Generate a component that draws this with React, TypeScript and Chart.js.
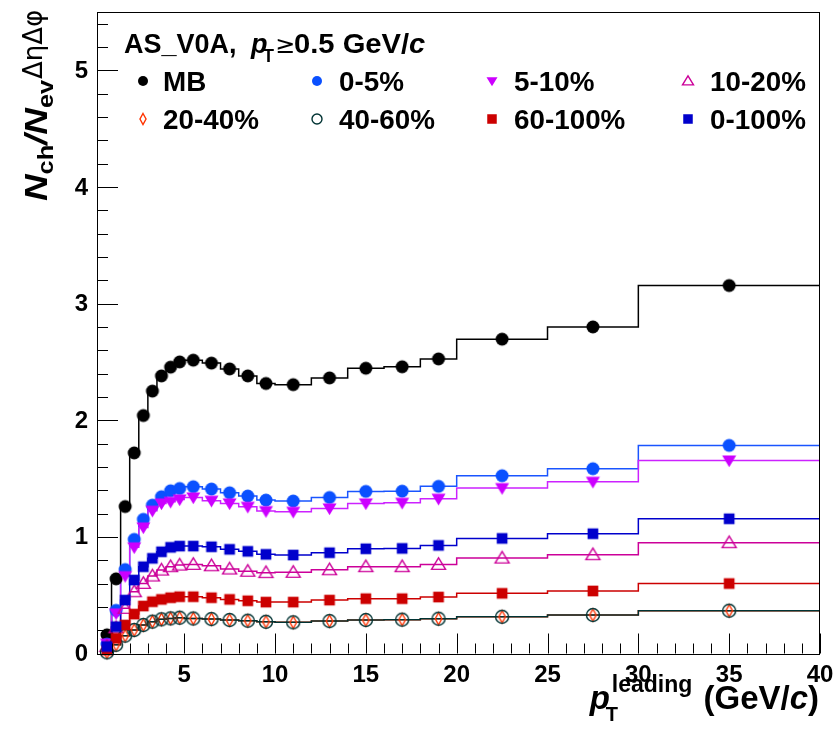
import React, { useEffect, useRef } from 'react';
import { Chart, registerables } from 'chart.js';

Chart.register(...registerables);

// ---------------- data ----------------
const binEdges = [0.5, 1, 1.5, 2, 2.5, 3, 3.5, 4, 4.5, 5, 6, 7, 8, 9, 10, 12, 14, 16, 18, 20, 25, 30, 40];
const binCenters = [0.75, 1.25, 1.75, 2.25, 2.75, 3.25, 3.75, 4.25, 4.75, 5.5, 6.5, 7.5, 8.5, 9.5, 11, 13, 15, 17, 19, 22.5, 27.5, 35];

const valsMB = [0.16, 0.64, 1.26, 1.72, 2.04, 2.25, 2.38, 2.455, 2.5, 2.515, 2.49, 2.44, 2.38, 2.315, 2.305, 2.363, 2.446, 2.458, 2.526, 2.695, 2.8, 3.155];
const vals0to5 = [0.08, 0.37, 0.72, 0.978, 1.15, 1.272, 1.344, 1.395, 1.415, 1.43, 1.41, 1.378, 1.35, 1.315, 1.307, 1.338, 1.39, 1.392, 1.433, 1.524, 1.584, 1.784];
const vals5to10 = [0.085, 0.344, 0.664, 0.91, 1.081, 1.224, 1.287, 1.301, 1.321, 1.338, 1.31, 1.287, 1.258, 1.221, 1.215, 1.244, 1.287, 1.292, 1.327, 1.418, 1.472, 1.655];
const vals10to20 = [0.06, 0.22, 0.387, 0.529, 0.601, 0.664, 0.715, 0.744, 0.758, 0.764, 0.752, 0.724, 0.705, 0.693, 0.696, 0.718, 0.744, 0.744, 0.764, 0.818, 0.847, 0.95];
const vals20to40 = [0.01, 0.075, 0.153, 0.201, 0.244, 0.273, 0.293, 0.301, 0.307, 0.3, 0.295, 0.287, 0.281, 0.272, 0.267, 0.278, 0.287, 0.29, 0.298, 0.315, 0.33, 0.367];
const vals40to60 = [0.01, 0.075, 0.153, 0.201, 0.244, 0.273, 0.293, 0.301, 0.307, 0.3, 0.295, 0.287, 0.281, 0.272, 0.267, 0.278, 0.287, 0.29, 0.298, 0.315, 0.33, 0.367];
const vals60to100 = [0.03, 0.13, 0.244, 0.338, 0.407, 0.444, 0.464, 0.478, 0.487, 0.487, 0.478, 0.464, 0.452, 0.441, 0.441, 0.458, 0.47, 0.47, 0.484, 0.516, 0.536, 0.6];
const vals0to100 = [0.06, 0.23, 0.458, 0.63, 0.744, 0.816, 0.872, 0.91, 0.921, 0.921, 0.915, 0.893, 0.876, 0.85, 0.844, 0.864, 0.898, 0.901, 0.927, 0.987, 1.027, 1.155];

const yTickLabels = ['0', '1', '2', '3', '4', '5'];
const xTickLabels = ['5', '10', '15', '20', '25', '30', '35', '40'];

// ---------------- styles ----------------
type Kind = 'circle' | 'ocircle' | 'square' | 'tridown' | 'otriup' | 'odiamond';
interface Series { label: string; values: number[]; color: string; lineColor: string; kind: Kind; size: number; legendSize: number; }

const series: Series[] = [
  { label: 'MB', values: valsMB, color: '#000000', lineColor: '#000000', kind: 'circle', size: 6.5, legendSize: 5 },
  { label: '0-5%', values: vals0to5, color: '#0a50ff', lineColor: '#1a55ff', kind: 'circle', size: 6.5, legendSize: 5 },
  { label: '5-10%', values: vals5to10, color: '#cc00ff', lineColor: '#cc22ff', kind: 'tridown', size: 7, legendSize: 5.5 },
  { label: '10-20%', values: vals10to20, color: '#cc0099', lineColor: '#cc0099', kind: 'otriup', size: 7, legendSize: 5.5 },
  { label: '20-40%', values: vals20to40, color: '#ff3300', lineColor: '#ff3300', kind: 'odiamond', size: 6, legendSize: 5.5 },
  { label: '40-60%', values: vals40to60, color: '#003333', lineColor: '#003333', kind: 'ocircle', size: 6.5, legendSize: 5 },
  { label: '60-100%', values: vals60to100, color: '#cc0000', lineColor: '#cc0000', kind: 'square', size: 6.3, legendSize: 5.6 },
  { label: '0-100%', values: vals0to100, color: '#0000cc', lineColor: '#0000cc', kind: 'square', size: 6.3, legendSize: 5.6 },
];

const FONT = '"Liberation Sans", Arial, Helvetica, sans-serif';
const SYM = '"DejaVu Sans", "Liberation Sans", sans-serif';

function drawMarker(ctx: CanvasRenderingContext2D, kind: Kind, x: number, y: number, s: number, color: string) {
  ctx.save();
  ctx.fillStyle = color;
  ctx.strokeStyle = color;
  ctx.lineWidth = 1.4;
  ctx.beginPath();
  switch (kind) {
    case 'circle':
      ctx.arc(x, y, s, 0, Math.PI * 2);
      ctx.fill();
      break;
    case 'ocircle':
      ctx.arc(x, y, s, 0, Math.PI * 2);
      ctx.stroke();
      break;
    case 'square':
      ctx.rect(x - s * 0.85, y - s * 0.85, s * 1.7, s * 1.7);
      ctx.fill();
      break;
    case 'tridown':
      ctx.moveTo(x - s, y - s * 0.7);
      ctx.lineTo(x + s, y - s * 0.7);
      ctx.lineTo(x, y + s * 0.95);
      ctx.closePath();
      ctx.fill();
      break;
    case 'otriup':
      ctx.moveTo(x - s, y + s * 0.7);
      ctx.lineTo(x + s, y + s * 0.7);
      ctx.lineTo(x, y - s * 0.95);
      ctx.closePath();
      ctx.stroke();
      break;
    case 'odiamond':
      ctx.moveTo(x, y - s);
      ctx.lineTo(x + s * 0.55, y);
      ctx.lineTo(x, y + s);
      ctx.lineTo(x - s * 0.55, y);
      ctx.closePath();
      ctx.stroke();
      break;
  }
  ctx.restore();
}

function markerImage(kind: Kind, s: number, color: string): HTMLCanvasElement {
  const size = Math.ceil(s * 2 + 5);
  const c = document.createElement('canvas');
  c.width = size;
  c.height = size;
  const g = c.getContext('2d')!;
  drawMarker(g, kind, size / 2, size / 2, s, color);
  return c;
}

// draw text left-aligned with optional horizontal stretch, returns advance
function txt(ctx: CanvasRenderingContext2D, t: string, x: number, y: number, font: string, sx = 1): number {
  ctx.save();
  ctx.font = font;
  ctx.textAlign = 'left';
  ctx.textBaseline = 'alphabetic';
  ctx.translate(x, y);
  ctx.scale(sx, 1);
  ctx.fillText(t, 0, 0);
  const w = ctx.measureText(t).width * sx;
  ctx.restore();
  return w;
}

const decorPlugin = {
  id: 'rootDecor',
  afterDraw(chart: any) {
    const { ctx, chartArea, scales } = chart;
    const { left, right, top, bottom } = chartArea;
    const xs = scales.x;
    const ys = scales.y;
    ctx.save();
    ctx.strokeStyle = '#000';
    ctx.fillStyle = '#000';
    ctx.lineWidth = 1;
    // frame
    ctx.strokeRect(Math.round(left) + 0.5, Math.round(top) + 0.5, Math.round(right - left) - 1, Math.round(bottom - top));

    // ticks (inside the frame)
    ctx.beginPath();
    for (let k = 1; k <= 27; k++) {
      const v = k * 0.2;
      const py = Math.round(ys.getPixelForValue(v)) + 0.5;
      const len = k % 5 === 0 ? 21 : 11;
      ctx.moveTo(left, py);
      ctx.lineTo(left + len, py);
    }
    for (let v = 1; v <= 40; v++) {
      const px = Math.round(xs.getPixelForValue(v)) + 0.5;
      const len = v % 5 === 0 ? 20 : 10;
      ctx.moveTo(px, bottom);
      ctx.lineTo(px, bottom - len);
    }
    ctx.stroke();

    // tick labels
    ctx.font = `bold 24px ${FONT}`;
    ctx.textAlign = 'right';
    ctx.textBaseline = 'middle';
    yTickLabels.forEach((lab, i) => {
      ctx.fillText(lab, left - 9, ys.getPixelForValue(i) + 1);
    });
    ctx.textAlign = 'center';
    ctx.textBaseline = 'alphabetic';
    xTickLabels.forEach((lab) => {
      ctx.fillText(lab, xs.getPixelForValue(Number(lab)), 682);
    });

    // y title (rotated)
    ctx.save();
    ctx.translate(47, 201);
    ctx.rotate(-Math.PI / 2);
    const sy = 1.15;
    let cx = 0;
    cx += txt(ctx, 'N', cx, 0, `italic bold 32px ${FONT}`, sy);
    cx += txt(ctx, 'ch', cx, 6, `bold 22px ${FONT}`, sy);
    cx += txt(ctx, '/', cx, 0, `italic bold 32px ${FONT}`, sy);
    cx += txt(ctx, 'N', cx, 0, `italic bold 32px ${FONT}`, sy);
    cx += txt(ctx, 'ev', cx, 6, `bold 22px ${FONT}`, sy);
    cx += 1;
    txt(ctx, 'ΔηΔφ', cx, -5, `26px ${SYM}`, 1.0);
    ctx.restore();

    // x title, right aligned at frame right
    const pFont = `italic bold 33px ${FONT}`;
    const supFont = `bold 23px ${FONT}`;
    const subFont = `bold 20px ${FONT}`;
    const mainFont = `bold 33px ${FONT}`;
    ctx.font = pFont; const wp = ctx.measureText('p').width;
    ctx.font = supFont; const wl = ctx.measureText('leading').width;
    ctx.font = mainFont; const w1 = ctx.measureText(' (GeV/').width; const w3 = ctx.measureText(')').width;
    ctx.font = pFont; const w2 = ctx.measureText('c').width;
    const total = wp + 3 + wl + w1 + w2 + w3;
    const x0 = right - total - 2;
    const base = 709;
    txt(ctx, 'p', x0, base, pFont);
    txt(ctx, 'T', x0 + wp - 4, base + 12, subFont);
    txt(ctx, 'leading', x0 + wp + 2, base - 17, supFont);
    let xx = x0 + wp + 4 + wl;
    xx += txt(ctx, ' (GeV/', xx, base, mainFont);
    xx += txt(ctx, 'c', xx, base, pFont);
    txt(ctx, ')', xx, base, mainFont);

    // header text
    const hb = 53;
    txt(ctx, 'AS_V0A,', 124, hb, `bold 27px ${FONT}`);
    txt(ctx, 'p', 251, hb, `italic bold 27px ${FONT}`);
    txt(ctx, 'T', 263, hb + 9, `bold 18px ${FONT}`);
    txt(ctx, '≥', 275, hb, `24px ${SYM}`);
    let hx = 294;
    hx += txt(ctx, '0.5 GeV/', hx, hb, `bold 27px ${FONT}`, 1.08);
    txt(ctx, 'c', hx, hb, `italic bold 27px ${FONT}`, 1.08);

    // legend
    const colMarker = [143, 317, 492, 688];
    const colText = [163, 339, 514, 710];
    const rowBase = [91, 129];
    series.forEach((s, i) => {
      const r = Math.floor(i / 4);
      const c = i % 4;
      drawMarker(ctx, s.kind, colMarker[c], rowBase[r] - 10, s.legendSize, s.color);
      ctx.fillStyle = '#000';
      txt(ctx, s.label, colText[c], rowBase[r], `bold 27px ${FONT}`, 1.03);
    });
    ctx.restore();
  },
};

export default function App() {
  const ref = useRef<HTMLCanvasElement>(null);
  useEffect(() => {
    if (!ref.current) return;
    const datasets: any[] = [];
    series.forEach((s, i) => {
      const stepData = binEdges.map((e, j) => ({ x: e, y: s.values[Math.min(j, s.values.length - 1)] }));
      datasets.push({
        type: 'line',
        label: s.label + ' hist',
        data: stepData,
        stepped: 'before',
        borderColor: s.lineColor,
        borderWidth: 1.5,
        pointRadius: 0,
        fill: false,
        order: 100 - i,
      });
      datasets.push({
        type: 'line',
        label: s.label,
        data: binCenters.map((c, j) => ({ x: c, y: s.values[j] })),
        showLine: false,
        pointStyle: markerImage(s.kind, s.size, s.color),
        pointRadius: s.size,
        clip: false,
        order: 50 - i,
      });
    });
    const chart = new Chart(ref.current, {
      type: 'line',
      data: { datasets },
      options: {
        animation: false,
        responsive: false,
        maintainAspectRatio: false,
        layout: { padding: { left: 97, right: 16, top: 12, bottom: 75.5 } },
        plugins: { legend: { display: false }, tooltip: { enabled: false } },
        scales: {
          x: { type: 'linear', min: 0.2, max: 40, display: false },
          y: { type: 'linear', min: 0, max: 5.5, display: false },
        },
      },
      plugins: [decorPlugin],
    } as any);
    return () => chart.destroy();
  }, []);
  return (
    <div style={{ position: 'fixed', left: 0, top: 0, width: 836, height: 729, background: '#fff' }}>
      <canvas ref={ref} width={836} height={729} style={{ display: 'block' }} />
    </div>
  );
}
